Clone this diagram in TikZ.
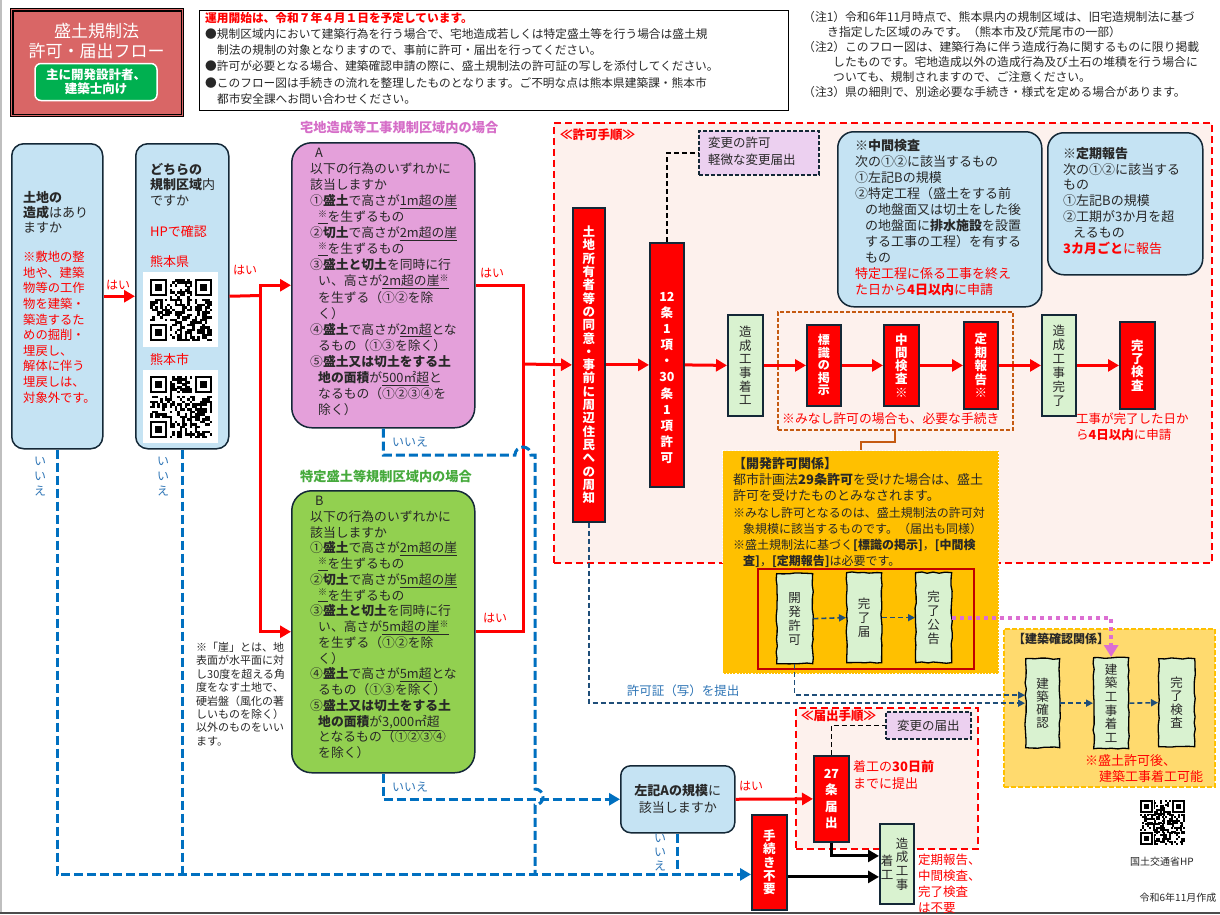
\documentclass[tikz,border=0pt]{standalone}
\usepackage{fontspec}
\setmainfont{Noto Sans CJK JP}
\usetikzlibrary{arrows.meta,decorations.pathmorphing,positioning}

\definecolor{skyfill}{RGB}{197,227,243}
\definecolor{edge}{RGB}{20,40,55}
\definecolor{pinkA}{RGB}{228,160,218}
\definecolor{greenB}{RGB}{146,208,80}
\definecolor{leaf}{RGB}{217,242,208}
\definecolor{lilac}{RGB}{236,208,240}
\definecolor{blush}{RGB}{253,241,237}
\definecolor{amber}{RGB}{255,192,0}
\definecolor{cream}{RGB}{255,218,110}
\definecolor{flowblue}{RGB}{0,112,192}
\definecolor{navy}{RGB}{31,78,121}
\definecolor{rust}{RGB}{197,90,17}
\definecolor{rose}{RGB}{217,102,102}
\definecolor{leafgreen}{RGB}{0,176,80}
\definecolor{titlepink}{RGB}{214,110,200}
\definecolor{titlegreen}{RGB}{70,170,60}
\definecolor{ink}{RGB}{40,40,40}
\definecolor{plum}{RGB}{220,110,210}
\definecolor{labelblue}{RGB}{46,117,182}
\definecolor{darkred}{RGB}{192,0,0}

\tikzset{
  ask/.style={draw=edge, line width=1.5pt, fill=skyfill, rounded corners=12pt, anchor=north west, inner sep=0pt},
  crit/.style={draw=edge, line width=1.5pt, rounded corners=20pt, anchor=north west, inner sep=0pt},
  info/.style={draw=edge, line width=1.5pt, fill=skyfill, rounded corners=16pt, anchor=north west, inner sep=0pt},
  redv/.style={draw=edge, line width=1.8pt, fill=red, text=white, anchor=north west, inner sep=0pt, align=center, font=\bfseries\fontsize{12.5}{13.3}\selectfont},
  leafv/.style={draw=edge, line width=1.8pt, fill=leaf, text=ink, anchor=north west, inner sep=0pt, align=center, font=\fontsize{12.5}{13.6}\selectfont},
  wavy/.style={draw=black, line width=1.3pt, fill=leaf, text=ink, anchor=north west, inner sep=0pt, align=center, font=\fontsize{12.5}{14}\selectfont, decorate, decoration={random steps, segment length=6pt, amplitude=0.7pt}},
  change/.style={draw=edge, line width=1.8pt, dash pattern=on 4pt off 2pt, fill=lilac, text=ink, anchor=north west, inner sep=0pt, align=left, font=\fontsize{12.5}{16}\selectfont},
  txt/.style={anchor=north west, inner sep=0pt, align=left, text=ink},
  lbl/.style={inner sep=0pt, font=\fontsize{12}{14}\selectfont},
  redline/.style={red, line width=3pt},
  redarrow/.style={redline, -{Triangle[length=11pt, width=12pt]}},
  karrow/.style={black, line width=3pt, -{Triangle[length=11pt, width=12pt]}},
  bluedash/.style={flowblue, line width=3pt, dash pattern=on 9pt off 4pt},
  bluearrow/.style={bluedash, -{Triangle[length=11pt, width=12pt]}},
  navyarrow/.style={navy, line width=1.6pt, dash pattern=on 5pt off 3pt, -{Triangle[length=7pt, width=7pt]}},
  kdash/.style={black, line width=1.5pt, dash pattern=on 5pt off 3pt},
}

% QR-like pattern: x, y, size, seed
\newcommand{\qrblock}[4]{%
  \pgfmathsetseed{#4}%
  \pgfmathsetmacro{\qrmod}{#3/25}%
  \begin{scope}[shift={(#1,#2)}, x=\qrmod pt, y=-\qrmod pt]
    \foreach \qi in {0,...,24}{\foreach \qj in {0,...,24}{%
      \pgfmathrandominteger{\qrbit}{0}{1}%
      \ifnum\qrbit=1 \fill[black] (\qi,\qj) rectangle ++(1.05,1.05);\fi}}
    \foreach \qx/\qy/\sx/\sy in {0/0/0/0,18/0/17/0,0/18/0/17}{%
      \fill[white] (\sx,\sy) rectangle ++(8,8);
      \fill[black] (\qx,\qy) rectangle ++(7,7);
      \fill[white] (\qx+1,\qy+1) rectangle ++(5,5);
      \fill[black] (\qx+2,\qy+2) rectangle ++(3,3);}
  \end{scope}}

\begin{document}
\begin{tikzpicture}[x=1pt, y=-1pt]
\useasboundingbox (0,0) rectangle (1220,914);
\fill[white] (0,0) rectangle (1220,914);
\draw[black!25, line width=1.5pt] (0.75,0) -- (0.75,914);
\draw[black!70, line width=2pt] (0,913) -- (1220,913);
\pgfmathsetseed{7}

% title and notes
\node[fill=rose, draw=black, line width=1.2pt, minimum width=173, minimum height=108, anchor=north west, inner sep=0pt] (title) at (10,8) {};
\draw[black, line width=1.2pt] ([shift={(3pt,-3pt)}]title.north west) rectangle ([shift={(-3pt,3pt)}]title.south east);
\node[text=white, align=center, font=\fontsize{17}{20}\selectfont, inner sep=0pt] (titletext) at (96.5,41) {盛土規制法\\許可・届出フロー};
\node[fill=leafgreen, draw=white, line width=1.5pt, rounded corners=6pt, minimum width=122, minimum height=37, text=white, align=center, font=\bfseries\fontsize{12.5}{14}\selectfont, inner sep=0pt] (target) at (96,82) {主に開発設計者、\\建築士向け};

\node[draw=black, line width=1pt, minimum width=589, minimum height=100, anchor=north west, inner sep=0pt] (notebox) at (199,10) {};
\node[txt, font=\fontsize{11.7}{16.2}\selectfont] (notes) at (205,12) {\textcolor{red}{\textbf{運用開始は、令和７年４月１日を予定しています。}}\\
●規制区域内において建築行為を行う場合で、宅地造成若しくは特定盛土等を行う場合は盛土規\\
\hspace*{12pt}制法の規制の対象となりますので、事前に許可・届出を行ってください。\\
●許可が必要となる場合、建築確認申請の際に、盛土規制法の許可証の写しを添付してください。\\
●このフロー図は手続きの流れを整理したものとなります。ご不明な点は熊本県建築課・熊本市\\
\hspace*{12pt}都市安全課へお問い合わせください。};
\node[txt, font=\fontsize{11.8}{15}\selectfont] (remarks) at (803,11) {（注1）令和6年11月時点で、熊本県内の規制区域は、旧宅造規制法に基づ\\
\hspace*{24pt}き指定した区域のみです。（熊本市及び荒尾市の一部）\\
（注2）このフロー図は、建築行為に伴う造成行為に関するものに限り掲載\\
\hspace*{30pt}したものです。宅地造成以外の造成行為及び土石の堆積を行う場合に\\
\hspace*{30pt}ついても、規制されますので、ご注意ください。\\
（注3）県の細則で、別途必要な手続き・様式を定める場合があります。};

% permit procedure area
\node[draw=red, dash pattern=on 7pt off 4pt, line width=1.8pt, fill=blush, minimum width=658, minimum height=440, anchor=north west, inner sep=0pt] (permit) at (553,122) {};
\node[txt, text=red, font=\bfseries\fontsize{12.5}{14}\selectfont] (permitt) at (560,129) {≪許可手順≫};

% first questions
\node[ask, minimum width=91, minimum height=305] (q1) at (11,143) {};
\node[txt, font=\fontsize{13}{15}\selectfont] (q1t) at (23,191) {\textbf{土地の}\\\textbf{造成}はあり\\ますか};
\node[txt, text=red, font=\fontsize{12.3}{15.6}\selectfont] (q1n) at (23,251) {※敷地の整\\地や、建築\\物等の工作\\物を建築・\\築造するた\\めの掘削・\\埋戻し、\\解体に伴う\\埋戻しは、\\対象外です。};

\node[ask, minimum width=93, minimum height=305] (q2) at (135,143) {};
\node[txt, font=\fontsize{13}{15.5}\selectfont] (q2t) at (150,163) {\textbf{どちらの}\\\textbf{規制区域}内\\ですか};
\node[txt, text=red, font=\fontsize{13}{15}\selectfont] (hp) at (150,225) {HPで確認};
\node[txt, text=red, font=\fontsize{13}{15}\selectfont] (pref) at (150,255) {熊本県};
\node[txt, text=red, font=\fontsize{13}{15}\selectfont] (city) at (150,353) {熊本市};
\fill[white] (143,272) rectangle (218,347);
\qrblock{150}{279}{62}{11}
\fill[white] (143,370) rectangle (218,443);
\qrblock{150}{376}{62}{23}

% region A
\node[txt, text=titlepink, font=\bfseries\fontsize{13.2}{15}\selectfont] (titleA) at (300,121) {宅地造成等工事規制区域内の場合};
\node[crit, fill=pinkA, minimum width=183, minimum height=285] (boxA) at (291,142) {};
\node[txt, font=\fontsize{12.8}{16.05}\selectfont] (critA) at (310,148) {\hspace*{5pt}A\\
以下の行為のいずれかに\\
該当しますか\\
①\textbf{盛土}で高さが\underline{1m超の崖}\\
\hspace*{8pt}\underline{\textsuperscript{※}}を生ずるもの\\
②\textbf{切土}で高さが\underline{2m超の崖}\\
\hspace*{8pt}\underline{\textsuperscript{※}}を生ずるもの\\
③\textbf{盛土と切土}を同時に行\\
\hspace*{8pt}い、高さが\underline{2m超の崖\textsuperscript{※}}\\
\hspace*{8pt}を生ずる（①②を除\\
\hspace*{8pt}く）\\
④\textbf{盛土}で高さが\underline{2m超}とな\\
\hspace*{8pt}るもの（①③を除く）\\
⑤\textbf{盛土又は切土をする土}\\
\hspace*{8pt}\textbf{地の面積}が\underline{500㎡超}と\\
\hspace*{8pt}なるもの（①②③④を\\
\hspace*{8pt}除く）};

% region B
\node[txt, text=titlegreen, font=\bfseries\fontsize{13.2}{15}\selectfont] (titleB) at (300,470) {特定盛土等規制区域内の場合};
\node[crit, fill=greenB, minimum width=183, minimum height=282] (boxB) at (291,490) {};
\node[txt, font=\fontsize{12.8}{15.75}\selectfont] (critB) at (310,496) {\hspace*{5pt}B\\
以下の行為のいずれかに\\
該当しますか\\
①\textbf{盛土}で高さが\underline{2m超の崖}\\
\hspace*{8pt}\underline{\textsuperscript{※}}を生ずるもの\\
②\textbf{切土}で高さが\underline{5m超の崖}\\
\hspace*{8pt}\underline{\textsuperscript{※}}を生ずるもの\\
③\textbf{盛土と切土}を同時に行\\
\hspace*{8pt}い、高さが\underline{5m超の崖\textsuperscript{※}}\\
\hspace*{8pt}を生ずる（①②を除\\
\hspace*{8pt}く）\\
④\textbf{盛土}で高さが\underline{5m超}とな\\
\hspace*{8pt}るもの（①③を除く）\\
⑤\textbf{盛土又は切土をする土}\\
\hspace*{8pt}\textbf{地の面積}が\underline{3,000㎡超}\\
\hspace*{8pt}となるもの（①②③④\\
\hspace*{8pt}を除く）};

\node[txt, font=\fontsize{11}{13.4}\selectfont] (cliff) at (196,642) {※「崖」とは、地\\表面が水平面に対\\し30度を超える角\\度をなす土地で、\\硬岩盤（風化の著\\しいものを除く）\\以外のものをいい\\ます。};

% permit steps
\node[redv, minimum width=32, minimum height=314] (owner) at (572,207) {土\\地\\所\\有\\者\\等\\の\\同\\意\\・\\事\\前\\に\\周\\辺\\住\\民\\へ\\の\\周\\知};
\node[redv, minimum width=34, minimum height=244] (art12) at (649,242) {};
\node[lbl, text=white, align=center, font=\bfseries\fontsize{12.5}{16.1}\selectfont] (art12t) at ([yshift=-13pt]art12.center) {12\\条\\1\\項\\・\\30\\条\\1\\項\\許\\可};
\node[change, minimum width=120, minimum height=44] (change1) at (698,130) {};
\node[txt, font=\fontsize{12.5}{16.5}\selectfont] (change1t) at (708,137) {変更の許可\\軽微な変更届出};
\node[leafv, minimum width=35, minimum height=101] (start1) at (727,314) {造\\成\\工\\事\\着\\工};
\node[draw=rust, line width=1.5pt, dash pattern=on 4pt off 2pt, minimum width=235, minimum height=118, anchor=north west, inner sep=0pt] (mina) at (777,311) {};
\node[txt, text=red, font=\fontsize{12.8}{15}\selectfont] (minat) at (782,413) {※みなし許可の場合も、必要な手続き};
\node[redv, minimum width=34, minimum height=81, font=\bfseries\fontsize{12}{12.5}\selectfont] (sign) at (806,324) {標\\識\\の\\掲\\示};
\node[redv, minimum width=35, minimum height=81, font=\bfseries\fontsize{12.5}{13.2}\selectfont] (midchk) at (883,324) {中\\間\\検\\査\\※};
\node[redv, minimum width=34, minimum height=87, font=\bfseries\fontsize{12.5}{13.5}\selectfont] (period) at (963,321) {定\\期\\報\\告\\※};
\node[leafv, minimum width=34, minimum height=101, font=\fontsize{12.5}{14}\selectfont] (finish1) at (1041,314) {造\\成\\工\\事\\完\\了};
\node[redv, minimum width=35, minimum height=87, font=\bfseries\fontsize{12.5}{13.2}\selectfont] (final) at (1119,321) {完\\了\\検\\査};
\node[txt, text=red, font=\fontsize{12.5}{16}\selectfont] (finalt) at (1076,413) {工事が完了した日か\\ら\textbf{4日以内}に申請};

\node[info, minimum width=204, minimum height=175] (chk) at (837,131) {};
\node[txt, font=\fontsize{13}{16.05}\selectfont] (chkt) at (855,139) {\textbf{※中間検査}\\
次の①②に該当するもの\\
①左記Bの規模\\
②特定工程（盛土をする前\\
\hspace*{10pt}の地盤面又は切土をした後\\
\hspace*{10pt}の地盤面に\textbf{排水施設}を設置\\
\hspace*{10pt}する工事の工程）を有する\\
\hspace*{10pt}もの\\
\textcolor{red}{特定工程に係る工事を終え}\\
\textcolor{red}{た日から\textbf{4日以内}に申請}};
\node[info, minimum width=155, minimum height=142] (per) at (1047,132) {};
\node[txt, font=\fontsize{13}{15.8}\selectfont] (pert) at (1063,147) {\textbf{※定期報告}\\
次の①②に該当する\\
もの\\
①左記Bの規模\\
②工期が3か月を超\\
\hspace*{10pt}えるもの\\
\textcolor{red}{\textbf{3カ月ごと}に報告}};

% development permit
\node[fill=amber, draw=white, dotted, line width=1.2pt, minimum width=276, minimum height=223, anchor=north west, inner sep=0pt] (devp) at (722,450) {};
\node[txt, font=\fontsize{13}{16.2}\selectfont] (devpt) at (733,457) {\textbf{【開発許可関係】}\\都市計画法\textbf{29条許可}を受けた場合は、盛土\\許可を受けたものとみなされます。};
\node[txt, font=\fontsize{12}{16}\selectfont] (devpn) at (733,507) {※みなし許可となるのは、盛土規制法の許可対\\
\hspace*{10pt}象規模に該当するものです。（届出も同様）\\
※盛土規制法に基づく\textbf{[標識の掲示]}，\textbf{[中間検}\\
\hspace*{10pt}\textbf{査]}，\textbf{[定期報告]}は必要です。};
\node[draw=darkred, line width=2pt, minimum width=216, minimum height=100, anchor=north west, inner sep=0pt] (devin) at (757,568) {};
\node[wavy, minimum width=36, minimum height=90] (dv1) at (776,573) {開\\発\\許\\可};
\node[wavy, minimum width=35, minimum height=90] (dv2) at (846,572) {完\\了\\届};
\node[wavy, minimum width=36, minimum height=90] (dv3) at (915,572) {完\\了\\公\\告};

% building confirmation
\node[fill=cream, draw=amber, line width=1.5pt, dash pattern=on 5pt off 2pt, minimum width=211, minimum height=158, anchor=north west, inner sep=0pt] (bcbox) at (1003,628) {};
\node[txt, font=\bfseries\fontsize{12}{14}\selectfont] (bct) at (1013,633) {【建築確認関係】};
\node[wavy, minimum width=34, minimum height=89, font=\fontsize{12.5}{12.8}\selectfont] (bc1) at (1025,658) {建\\築\\確\\認};
\node[wavy, minimum width=35, minimum height=91, font=\fontsize{12.5}{13.6}\selectfont] (bc2) at (1093,657) {建\\築\\工\\事\\着\\工};
\node[wavy, minimum width=36, minimum height=88, font=\fontsize{12.5}{13.5}\selectfont] (bc3) at (1158,658) {完\\了\\検\\査};
\node[txt, text=red, font=\fontsize{13}{16}\selectfont] (bcn) at (1085,754) {※盛土許可後、\\\hspace*{14pt}建築工事着工可能};

% notification procedure
\node[draw=red, dash pattern=on 7pt off 4pt, line width=1.8pt, fill=blush, minimum width=182, minimum height=141, anchor=north west, inner sep=0pt] (notif) at (795,707) {};
\node[txt, text=red, font=\bfseries\fontsize{12.5}{14}\selectfont] (notift) at (801,710) {≪届出手順≫};
\node[change, minimum width=85, minimum height=27, align=center] (change2) at (885,711) {変更の届出};
\node[ask, rounded corners=10pt, minimum width=114, minimum height=67, align=center, text=ink, font=\fontsize{13}{17}\selectfont] (lA) at (620,765) {\textbf{左記Aの規模}に\\該当しますか};
\node[redv, minimum width=35, minimum height=86, font=\bfseries\fontsize{12.5}{16.5}\selectfont] (art27) at (813,755) {27\\条\\届\\出};
\node[txt, text=red, font=\fontsize{13}{17}\selectfont] (art27t) at (853,760) {着工の\textbf{30日前}\\までに提出};
\node[redv, minimum width=35, minimum height=95, font=\bfseries\fontsize{12.5}{13.2}\selectfont] (noproc) at (751,814) {手\\続\\き\\不\\要};
\node[draw=edge, line width=1.8pt, fill=leaf, minimum width=34, minimum height=80, anchor=north west, inner sep=0pt] (start2) at (879,823) {};
\node[lbl, align=center, text=ink, font=\fontsize{12.5}{13.7}\selectfont] (start2a) at (902,864) {造\\成\\工\\事};
\node[lbl, align=center, text=ink, font=\fontsize{12.5}{14}\selectfont] (start2b) at (887,867) {着\\工};
\node[txt, text=red, font=\fontsize{12.5}{16}\selectfont] (start2t) at (918,854) {定期報告、\\中間検査、\\完了検査\\は不要};

% labels
\node[lbl, text=red] (yes1) at (118,285) {はい};
\node[lbl, text=red] (yes2) at (245,270) {はい};
\node[lbl, text=red] (yes3) at (492,273) {はい};
\node[lbl, text=red] (yes4) at (495,618) {はい};
\node[lbl, text=red] (yes5) at (751,786) {はい};
\node[lbl, text=labelblue, anchor=west] (noA) at (392,442) {いいえ};
\node[lbl, text=labelblue, anchor=west] (noB) at (392,787) {いいえ};
\node[lbl, text=labelblue, align=center, font=\fontsize{12}{15}\selectfont] (no1) at (40,477) {い\\い\\え};
\node[lbl, text=labelblue, align=center, font=\fontsize{12}{15}\selectfont] (no2) at (163,477) {い\\い\\え};
\node[lbl, text=labelblue, align=center, font=\fontsize{12}{14}\selectfont] (noL) at (660,853) {い\\い\\え};
\node[lbl, text=labelblue, font=\fontsize{12.5}{14}\selectfont] (copy) at (683,691) {許可証（写）を提出};

% red flow
\coordinate (jr) at (260,295.5);
\coordinate (jr2) at (523,364);
\draw[redarrow] (q1.east) -- (q2.west);
\draw[redline] (q2.east) -- (jr);
\draw[redarrow] (jr) |- (boxA.west);
\draw[redarrow] (jr) |- (boxB.west);
\draw[redline] (boxA.east) -| (jr2);
\draw[redline] (boxB.east) -| (jr2);
\draw[redarrow] (jr2) -- (owner.west);
\draw[redarrow] (owner.east) -- (art12.west);
\draw[redarrow] (art12.east) -- (start1.west);
\draw[redarrow] (start1.east) -- (sign.west);
\draw[redarrow] (sign.east) -- (midchk.west);
\draw[redarrow] (midchk.east) -- (period.west);
\draw[redarrow] (period.east) -- (finish1.west);
\draw[redarrow] (finish1.east) -- (final.west);
\draw[redarrow] (lA.east) -- (art27.west);

% change links
\draw[kdash] (art12.north) |- (change1.west);
\draw[kdash] (art27.north) |- (change2.west);
\draw[rust, line width=2pt] (mina.south) -- ++(0,11) -| (devp.north);

% no-branches
\coordinate (bot) at ([yshift=-12pt]noproc.west);
\coordinate (hopA) at (523,455);
\coordinate (ajoin) at (535,873.5);
\draw[bluearrow] (q1.south) |- (bot);
\draw[bluedash] (q2.south) -- (q2.south |- bot);
\draw[bluedash] (lA.south) -- (lA.south |- bot);
\draw[bluearrow] (boxB.south) |- (lA.west);
\draw[bluedash] (boxA.south) |- ([xshift=-8pt]hopA) arc[start angle=180, end angle=360, radius=8] -- (535,455) -- (535,789) arc[start angle=270, end angle=450, radius=8] -- (ajoin);

% black arrows to start of works
\coordinate (k2) at ([yshift=-13pt]start2.west);
\draw[karrow] (art27.south) |- ([yshift=8pt]start2.west);
\draw[karrow] (noproc.east |- k2) -- (k2);

% development and building links
\draw[navyarrow] (dv1.east) -- (dv2.west);
\draw[navyarrow] (dv2.east) -- (dv3.west);
\draw[navyarrow] (bc1.east) -- (bc2.west);
\draw[navyarrow] (bc2.east) -- (bc3.west);
\draw[navyarrow] (dv1.south) |- ([yshift=8pt]bc1.west);
\draw[navyarrow] (owner.south) |- (bc1.west);
\draw[plum, line width=4pt, dash pattern=on 4pt off 4pt, -{Triangle[length=12pt, width=14pt]}] (dv3.east) -| (bc2.north);

% ministry link
\qrblock{1140}{800}{45}{37}
\node[lbl, text=ink, font=\fontsize{10}{12}\selectfont] (mlit) at (1162,862) {国土交通省HP};
\node[lbl, text=ink, font=\fontsize{10}{12}\selectfont] (made) at (1178,898) {令和6年11月作成};
\end{tikzpicture}
\end{document}
